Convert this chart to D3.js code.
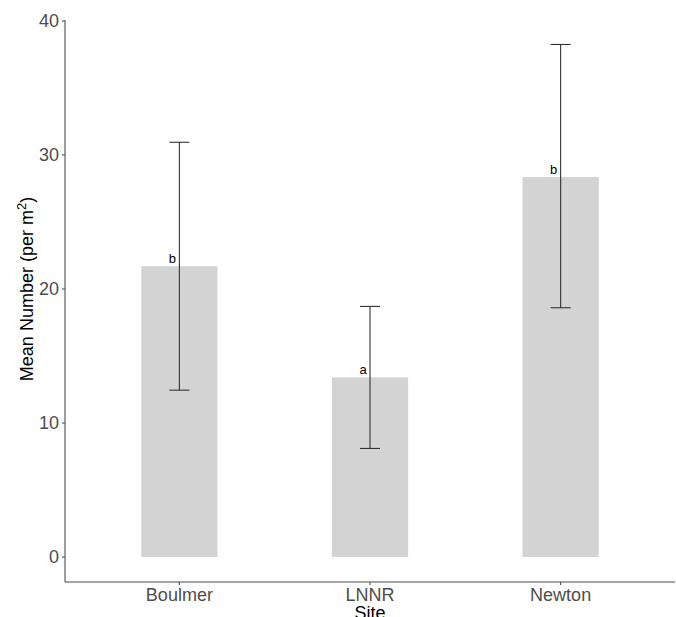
<!DOCTYPE html>
<html><head><meta charset="utf-8">
<script src="https://cdn.jsdelivr.net/npm/d3@7"></script>
<style>body{margin:0;background:#fff}svg{display:block;font-family:"Liberation Sans",Arial,sans-serif}</style>
</head><body><svg id="c" width="676" height="617"></svg>
<script>
const sites = ["Boulmer","LNNR","Newton"];
const means = [21.7, 13.4, 28.35];
const lower = [12.45, 8.1, 18.6];
const upper = [30.95, 18.7, 38.25];
const letters = ["b","a","b"];
const yTicks = [0,10,20,30,40];

const svg = d3.select("#c");
const pL = 65, pR = 675, pT = 20, pB = 582;
const y = d3.scaleLinear().domain([0,40]).range([557,21]);
// ggplot discrete: each category 1 unit, expand 0.6 each side, bar width 0.4
const x = d3.scalePoint().domain(sites).range([pL + 0.6*(pR-pL)/3.2, pR - 0.6*(pR-pL)/3.2]);
const unit = (pR-pL)/3.2;
const cx = d => x(d);
const bw = 0.4*unit;

svg.selectAll("rect.bar").data(sites).join("rect")
  .attr("x", d => cx(d)-bw/2).attr("width", bw)
  .attr("y", (d,i) => y(means[i])).attr("height", (d,i) => y(0)-y(means[i]))
  .attr("fill", "#d3d3d3");

const eb = svg.append("g").attr("stroke","#333").attr("stroke-width",1.1);
sites.forEach((d,i) => {
  const c = cx(d), hw = 10;
  eb.append("line").attr("x1",c).attr("x2",c).attr("y1",y(lower[i])).attr("y2",y(upper[i]));
  eb.append("line").attr("x1",c-hw).attr("x2",c+hw).attr("y1",y(lower[i])).attr("y2",y(lower[i]));
  eb.append("line").attr("x1",c-hw).attr("x2",c+hw).attr("y1",y(upper[i])).attr("y2",y(upper[i]));
});

svg.selectAll("text.lab").data(sites).join("text")
  .attr("x", d => cx(d)-7).attr("y", (d,i) => y(means[i])-3)
  .attr("text-anchor","middle").attr("font-size",13).attr("fill","#000")
  .text((d,i) => letters[i]);

// axes
const ax = svg.append("g").attr("stroke","#4d4d4d").attr("stroke-width",1.1);
ax.append("line").attr("x1",pL).attr("x2",pL).attr("y1",pT).attr("y2",pB);
ax.append("line").attr("x1",pL).attr("x2",pR).attr("y1",pB).attr("y2",pB);
yTicks.forEach(t => {
  ax.append("line").attr("x1",pL-3).attr("x2",pL).attr("y1",y(t)).attr("y2",y(t));
});
sites.forEach(s => {
  ax.append("line").attr("x1",cx(s)).attr("x2",cx(s)).attr("y1",pB).attr("y2",pB+3);
});
svg.selectAll("text.yt").data(yTicks).join("text")
  .attr("x", pL-6).attr("y", d => y(d)).attr("dy","0.35em")
  .attr("text-anchor","end").attr("font-size",18).attr("fill","#4d4d4d").text(d => d);
svg.selectAll("text.xt").data(sites).join("text")
  .attr("x", d => cx(d)).attr("y", 601)
  .attr("text-anchor","middle").attr("font-size",18).attr("fill","#4d4d4d").text(d => d);

svg.append("text").attr("x", (pL+pR)/2).attr("y", 619)
  .attr("text-anchor","middle").attr("font-size",18).attr("fill","#000").text("Site");

const yt = svg.append("text").attr("transform","translate(33,289) rotate(-90)")
  .attr("text-anchor","middle").attr("font-size",18).attr("fill","#000");
yt.append("tspan").text("Mean Number (per m");
yt.append("tspan").attr("dy",-7).attr("font-size",13).text("2");
yt.append("tspan").attr("dy",7).text(")");
</script></body></html>
